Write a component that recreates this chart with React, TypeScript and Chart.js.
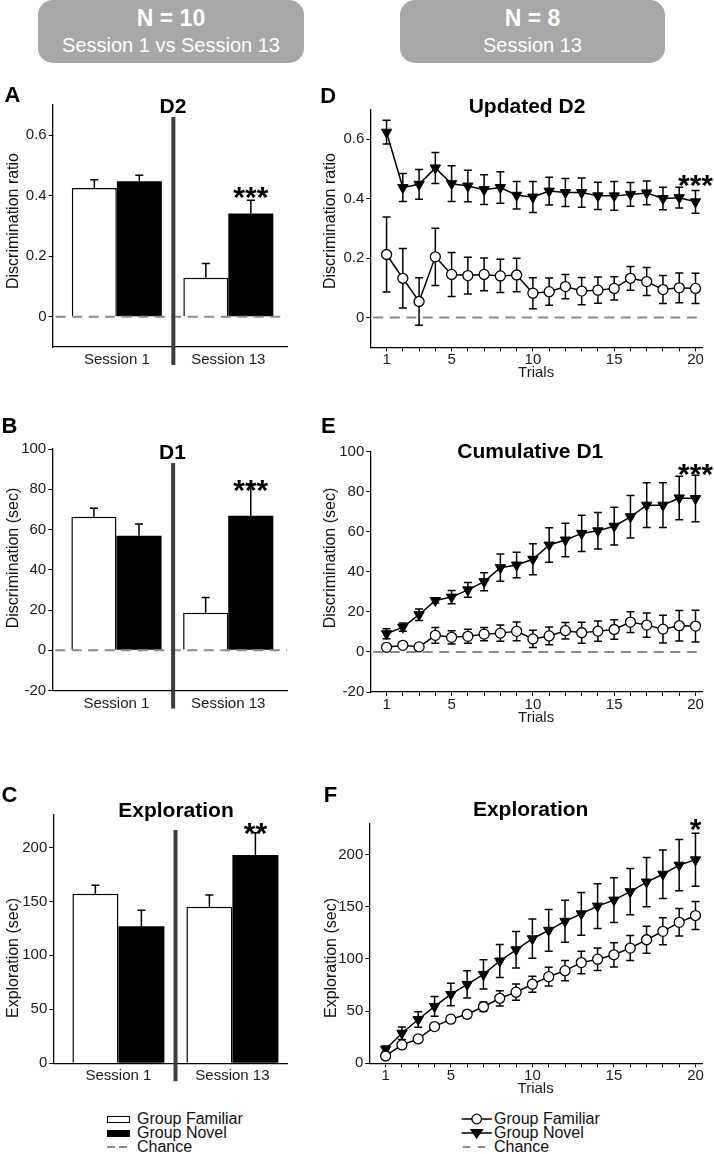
import React, { useEffect, useRef } from "react";
import { Chart, registerables } from "chart.js";

Chart.register(...registerables);

const FONT = "'Liberation Sans', Arial, Helvetica, sans-serif";
Chart.defaults.font.family = FONT;

// ---------------- Data ----------------
const sessions = ["Session 1", "Session 13"];
const sessionPositions = [1, 2];

// Panel A – D2 (discrimination ratio)
const d2Familiar = [0.426, 0.129];
const d2FamiliarSem = [0.027, 0.047];
const d2Novel = [0.448, 0.341];
const d2NovelSem = [0.02, 0.044];

// Panel B – D1 (sec)
const d1Familiar = [66.3, 18.6];
const d1FamiliarSem = [4.2, 7.6];
const d1Novel = [56.9, 66.8];
const d1NovelSem = [5.8, 15.8];

// Panel C – Exploration (sec)
const explFamiliar = [157, 145];
const explFamiliarSem = [8, 11];
const explNovel = [127, 193];
const explNovelSem = [14.7, 20.5];

const trials = [1, 2, 3, 4, 5, 6, 7, 8, 9, 10, 11, 12, 13, 14, 15, 16, 17, 18, 19, 20];
const trialTickLabels = [1, 5, 10, 15, 20];

// Panel D – Updated D2
const updD2Familiar = [0.212, 0.132, 0.054, 0.204, 0.145, 0.141, 0.145, 0.14, 0.143, 0.082, 0.087, 0.104, 0.089, 0.092, 0.098, 0.132, 0.121, 0.094, 0.1, 0.098];
const updD2FamiliarSem = [0.126, 0.1, 0.08, 0.096, 0.074, 0.062, 0.055, 0.056, 0.056, 0.052, 0.046, 0.041, 0.046, 0.044, 0.039, 0.04, 0.047, 0.047, 0.05, 0.051];
const updD2Novel = [0.623, 0.437, 0.448, 0.503, 0.45, 0.442, 0.43, 0.437, 0.411, 0.405, 0.425, 0.42, 0.42, 0.409, 0.409, 0.414, 0.419, 0.4, 0.403, 0.389];
const updD2NovelSem = [0.04, 0.047, 0.05, 0.052, 0.06, 0.053, 0.05, 0.053, 0.046, 0.052, 0.047, 0.047, 0.049, 0.046, 0.048, 0.04, 0.04, 0.038, 0.035, 0.038];

// Panel E – Cumulative D1
const cumD1Familiar = [2.3, 3.3, 2.5, 8.3, 7.3, 7.8, 8.9, 9.4, 10.3, 6.5, 8, 10.6, 9.6, 10.4, 11.2, 14.9, 13.4, 11.4, 13.1, 12.9];
const cumD1FamiliarSem = [0.8, 1.5, 1.2, 3.9, 3.3, 3.5, 3.3, 4, 4.7, 4.3, 4.4, 4.1, 5.2, 5, 4.9, 5.2, 6.1, 6.9, 7.6, 7.9];
const cumD1Novel = [9.1, 12.4, 18.6, 25.7, 27.4, 31, 35.1, 42.1, 43.4, 46.3, 53.4, 55.9, 59.2, 60.5, 62.8, 67.5, 73.3, 73.3, 76.9, 76.6];
const cumD1NovelSem = [2.5, 2.1, 2.9, 1.2, 3.3, 3.7, 4.5, 6.8, 6.4, 7.7, 8.6, 8.4, 9.1, 9.1, 9.4, 10.6, 11.2, 11.2, 10.9, 11.6];

// Panel F – Exploration per trial (cumulative)
const trialExplFamiliar = [7, 17.6, 23.4, 35.2, 42.3, 47, 54.2, 62.3, 68.2, 75.8, 83, 88.8, 96.5, 99.8, 104, 110.4, 118.4, 126.5, 135.1, 141.6];
const trialExplFamiliarSem = [1.5, 2, 2, 2.5, 3, 3.5, 4.5, 7.3, 7.7, 7.7, 9, 9.7, 10.8, 10.8, 11.6, 12, 12.9, 12.9, 13.2, 13.4];
const trialExplNovel = [13.5, 28.8, 42, 54.5, 66, 75.6, 85.2, 98, 108.8, 119.4, 127.4, 136.1, 143.2, 150.6, 156.4, 164.5, 173.7, 181.2, 189.9, 195];
const trialExplNovelSem = [3, 6, 7.5, 9.5, 10.8, 13, 14, 15.8, 17.4, 18.8, 20, 20.1, 20.6, 21.4, 21.4, 22.2, 23.6, 23.2, 24.5, 25.4];

// Axis ticks
const ticksRatio = [0, 0.2, 0.4, 0.6];
const ticksSec = [-20, 0, 20, 40, 60, 80, 100];
const ticksExpl = [0, 50, 100, 150, 200];

// Significance marks
const starA = { text: "***", y: 0.42 };
const starB = { text: "***", y: 83 };
const starC = { text: "**", y: 220 };
const starD = { text: "***", y: 0.468 };
const starE = { text: "***", y: 92.3 };
const starF = { text: "*", y: 231 };

// ---------------- Helpers ----------------
type Rect = { x: number; y: number; w: number; h: number };
type Area = { l: number; t: number; r: number; b: number };

function geometry(c: Rect, a: Area) {
  return {
    padTop: a.t - c.y,
    padRight: c.x + c.w - a.r,
    yWidth: a.l - c.x,
    xHeight: c.y + c.h - a.b,
  };
}

function drawErrors(chart: any, oneSided: boolean) {
  const { ctx } = chart;
  const ys = chart.scales.y;
  ctx.save();
  ctx.strokeStyle = "#000";
  ctx.lineWidth = 1.5;
  ctx.setLineDash([]);
  chart.data.datasets.forEach((ds: any, i: number) => {
    const meta = chart.getDatasetMeta(i);
    meta.data.forEach((el: any, j: number) => {
      const v = ds.data[j].y;
      const e = ds.sem[j];
      const x = el.x;
      const yTop = ys.getPixelForValue(v + e);
      const yBot = ys.getPixelForValue(oneSided ? v : v - e);
      ctx.beginPath();
      ctx.moveTo(x, yBot);
      ctx.lineTo(x, yTop);
      ctx.moveTo(x - 4, yTop);
      ctx.lineTo(x + 4, yTop);
      if (!oneSided) {
        ctx.moveTo(x - 4, yBot);
        ctx.lineTo(x + 4, yBot);
      }
      ctx.stroke();
    });
  });
  ctx.restore();
}

function drawChance(chart: any) {
  const { ctx, chartArea } = chart;
  const y = chart.scales.y.getPixelForValue(0);
  ctx.save();
  ctx.strokeStyle = "#8a8a8a";
  ctx.lineWidth = 2;
  ctx.setLineDash([10, 6.5]);
  ctx.beginPath();
  ctx.moveTo(chartArea.left + 3, y);
  ctx.lineTo(chartArea.right, y);
  ctx.stroke();
  ctx.restore();
}

function drawSeparator(chart: any, sep: { x: number; top: number }) {
  const { ctx, chartArea } = chart;
  const x = chart.scales.x.getPixelForValue(sep.x);
  const yTop = chart.scales.y.getPixelForValue(sep.top);
  ctx.save();
  ctx.strokeStyle = "#3d3d3d";
  ctx.lineWidth = 4;
  ctx.beginPath();
  ctx.moveTo(x, yTop);
  ctx.lineTo(x, chartArea.bottom + 18);
  ctx.stroke();
  ctx.restore();
}

function drawStar(chart: any, star: { text: string; y: number }, dataset: number, index: number) {
  const { ctx } = chart;
  const el = chart.getDatasetMeta(dataset).data[index];
  const y = chart.scales.y.getPixelForValue(star.y);
  const size = 30;
  ctx.save();
  ctx.fillStyle = "#000";
  ctx.font = `bold ${size}px ${FONT}`;
  ctx.textAlign = "center";
  ctx.textBaseline = "alphabetic";
  ctx.fillText(star.text, el.x, y + 0.57 * size);
  ctx.restore();
}

function makeDecor(cfg: any) {
  return {
    id: "decor",
    beforeDatasetsDraw(chart: any) {
      if (cfg.kind === "line") {
        if (cfg.chance) drawChance(chart);
        drawErrors(chart, false);
      }
    },
    afterDatasetsDraw(chart: any) {
      if (cfg.kind === "bar") {
        drawErrors(chart, true);
        if (cfg.chance) drawChance(chart);
        if (cfg.separator) drawSeparator(chart, cfg.separator);
      }
      drawStar(chart, cfg.star, cfg.starDataset, cfg.starIndex);
    },
  };
}

function yAxis(min: number, max: number, ticks: number[], width: number) {
  return {
    type: "linear",
    min,
    max,
    afterBuildTicks: (s: any) => {
      s.ticks = ticks.map((v) => ({ value: v }));
    },
    afterFit: (s: any) => {
      s.width = width;
    },
    ticks: {
      callback: (v: any) => String(v),
      font: { size: 15 },
      color: "#1a1a1a",
      padding: 2,
      autoSkip: false,
    },
    grid: { display: true, drawOnChartArea: false, drawTicks: true, tickLength: 4, color: "#000", lineWidth: 1 },
    border: { display: true, color: "#000", width: 1.3 },
  };
}

function barConfig(p: any) {
  const g = geometry(p.canvas, p.area);
  return {
    type: "bar",
    data: {
      datasets: [
        {
          label: "Group Familiar",
          data: sessionPositions.map((x, i) => ({ x, y: p.fam[i] })),
          sem: p.famSem,
          backgroundColor: "#fff",
          borderColor: "#000",
          borderWidth: 1.5,
          categoryPercentage: 0.807,
          barPercentage: 1,
        },
        {
          label: "Group Novel",
          data: sessionPositions.map((x, i) => ({ x, y: p.nov[i] })),
          sem: p.novSem,
          backgroundColor: "#000",
          borderColor: "#000",
          borderWidth: 0,
          categoryPercentage: 0.807,
          barPercentage: 1,
        },
      ],
    },
    options: {
      responsive: false,
      animation: false,
      events: [],
      layout: { padding: { top: g.padTop, right: g.padRight, left: 0, bottom: 0 } },
      plugins: { legend: { display: false }, tooltip: { enabled: false } },
      scales: {
        x: {
          type: "linear",
          min: p.xMin,
          max: p.xMax,
          offset: false,
          afterBuildTicks: (s: any) => {
            s.ticks = sessionPositions.map((v) => ({ value: v }));
          },
          afterFit: (s: any) => {
            s.height = g.xHeight;
          },
          ticks: {
            callback: (v: any) => {
              const i = sessionPositions.indexOf(v);
              return i >= 0 ? sessions[i] : "";
            },
            font: { size: 15 },
            color: "#1a1a1a",
            padding: 4,
            autoSkip: false,
            maxRotation: 0,
          },
          grid: { display: true, drawOnChartArea: false, drawTicks: false, offset: false },
          border: { display: true, color: "#000", width: 1.3 },
        },
        y: yAxis(p.yMin, p.yMax, p.yTicks, g.yWidth),
      },
    },
    plugins: [
      makeDecor({
        kind: "bar",
        chance: p.chance,
        separator: p.separator,
        star: p.star,
        starDataset: 1,
        starIndex: 1,
      }),
    ],
  };
}

function lineConfig(p: any) {
  const g = geometry(p.canvas, p.area);
  return {
    type: "line",
    data: {
      datasets: [
        {
          label: "Group Familiar",
          data: trials.map((x, i) => ({ x, y: p.fam[i] })),
          sem: p.famSem,
          borderColor: "#000",
          borderWidth: 1.5,
          pointStyle: "circle",
          pointRadius: 5,
          pointBackgroundColor: "#fff",
          pointBorderColor: "#000",
          pointBorderWidth: 1.3,
          tension: 0,
        },
        {
          label: "Group Novel",
          data: trials.map((x, i) => ({ x, y: p.nov[i] })),
          sem: p.novSem,
          borderColor: "#000",
          borderWidth: 1.5,
          pointStyle: "triangle",
          pointRotation: 180,
          pointRadius: 6,
          pointBackgroundColor: "#000",
          pointBorderColor: "#000",
          pointBorderWidth: 1,
          tension: 0,
        },
      ],
    },
    options: {
      responsive: false,
      animation: false,
      events: [],
      layout: { padding: { top: g.padTop, right: g.padRight, left: 0, bottom: 0 } },
      plugins: { legend: { display: false }, tooltip: { enabled: false } },
      scales: {
        x: {
          type: "linear",
          min: 0,
          max: 20.4,
          afterBuildTicks: (s: any) => {
            s.ticks = trials.map((v) => ({ value: v }));
          },
          afterFit: (s: any) => {
            s.height = g.xHeight;
          },
          ticks: {
            callback: (v: any) => (trialTickLabels.includes(v) ? String(v) : ""),
            font: { size: 15 },
            color: "#1a1a1a",
            padding: 0,
            autoSkip: false,
            maxRotation: 0,
          },
          grid: { display: true, drawOnChartArea: false, drawTicks: true, tickLength: 4, color: "#000" },
          border: { display: true, color: "#000", width: 1.3 },
          title: {
            display: true,
            text: "Trials",
            font: { size: 15 },
            color: "#1a1a1a",
            padding: { top: 0, bottom: Math.max(g.xHeight - 35, 0) },
          },
        },
        y: yAxis(p.yMin, p.yMax, p.yTicks, g.yWidth),
      },
    },
    plugins: [
      makeDecor({
        kind: "line",
        chance: p.chance,
        star: p.star,
        starDataset: 1,
        starIndex: trials.length - 1,
      }),
    ],
  };
}

function ChartCanvas({ rect, config }: { rect: Rect; config: any }) {
  const ref = useRef<HTMLCanvasElement>(null);
  useEffect(() => {
    const chart = new Chart(ref.current as HTMLCanvasElement, config);
    return () => chart.destroy();
  }, []);
  return (
    <canvas
      ref={ref}
      width={rect.w}
      height={rect.h}
      style={{ position: "absolute", left: rect.x, top: rect.y, width: rect.w, height: rect.h }}
    />
  );
}

function Txt(props: any) {
  const { x, y, size = 15, bold = false, rotate = 0, color = "#111", anchor = "center", children } = props;
  const tx = anchor === "center" ? "-50%" : anchor === "left" ? "0" : "-100%";
  return (
    <div
      style={{
        position: "absolute",
        left: x,
        top: y,
        transform: `translate(${tx},-50%) rotate(${rotate}deg)`,
        fontFamily: FONT,
        fontSize: size,
        fontWeight: bold ? "bold" : "normal",
        lineHeight: 1,
        whiteSpace: "nowrap",
        color,
      }}
    >
      {children}
    </div>
  );
}

function HeaderBox({ x, w, line1, line2 }: any) {
  return (
    <div
      style={{
        position: "absolute",
        left: x,
        top: 0,
        width: w,
        height: 63,
        background: "#a7a7a7",
        borderRadius: 15,
      }}
    >
      <Txt x={w / 2} y={18} size={23} bold color="#fff">
        {line1}
      </Txt>
      <Txt x={w / 2} y={45} size={20} color="#fff">
        {line2}
      </Txt>
    </div>
  );
}

// ---------------- Layout ----------------
const canvasA: Rect = { x: 0, y: 90, w: 300, h: 295 };
const areaA: Area = { l: 52.7, t: 105, r: 287, b: 347 };
const canvasB: Rect = { x: 0, y: 435, w: 300, h: 295 };
const areaB: Area = { l: 52.2, t: 449, r: 287, b: 690.5 };
const canvasC: Rect = { x: 0, y: 800, w: 300, h: 300 };
const areaC: Area = { l: 53.3, t: 815, r: 287, b: 1063.3 };
const canvasD: Rect = { x: 320, y: 90, w: 394, h: 295 };
const areaD: Area = { l: 370.3, t: 109.3, r: 702, b: 347.3 };
const canvasE: Rect = { x: 320, y: 435, w: 394, h: 295 };
const areaE: Area = { l: 370.3, t: 451.7, r: 702, b: 692 };
const canvasF: Rect = { x: 320, y: 800, w: 394, h: 300 };
const areaF: Area = { l: 369.3, t: 823.3, r: 702, b: 1063.3 };

const cfgA = barConfig({
  canvas: canvasA, area: areaA, fam: d2Familiar, famSem: d2FamiliarSem, nov: d2Novel, novSem: d2NovelSem,
  xMin: 0.425, xMax: 2.526, yMin: -0.1, yMax: 0.7, yTicks: ticksRatio, chance: true,
  separator: { x: 1.507, top: 0.66 }, star: starA,
});
const cfgB = barConfig({
  canvas: canvasB, area: areaB, fam: d1Familiar, famSem: d1FamiliarSem, nov: d1Novel, novSem: d1NovelSem,
  xMin: 0.425, xMax: 2.526, yMin: -20, yMax: 100, yTicks: ticksSec, chance: true,
  separator: { x: 1.507, top: 93 }, star: starB,
});
const cfgC = barConfig({
  canvas: canvasC, area: areaC, fam: explFamiliar, famSem: explFamiliarSem, nov: explNovel, novSem: explNovelSem,
  xMin: 0.429, xMax: 2.479, yMin: 0, yMax: 230, yTicks: ticksExpl, chance: false,
  separator: { x: 1.501, top: 216 }, star: starC,
});
const cfgD = lineConfig({
  canvas: canvasD, area: areaD, fam: updD2Familiar, famSem: updD2FamiliarSem, nov: updD2Novel, novSem: updD2NovelSem,
  yMin: -0.1, yMax: 0.7, yTicks: ticksRatio, chance: true, star: starD,
});
const cfgE = lineConfig({
  canvas: canvasE, area: areaE, fam: cumD1Familiar, famSem: cumD1FamiliarSem, nov: cumD1Novel, novSem: cumD1NovelSem,
  yMin: -20, yMax: 100, yTicks: ticksSec, chance: true, star: starE,
});
const cfgF = lineConfig({
  canvas: canvasF, area: areaF, fam: trialExplFamiliar, famSem: trialExplFamiliarSem, nov: trialExplNovel, novSem: trialExplNovelSem,
  yMin: 0, yMax: 230, yTicks: ticksExpl, chance: false, star: starF,
});

export default function App() {
  useEffect(() => {
    document.body.style.margin = "0";
    document.body.style.background = "#fff";
  }, []);
  return (
    <div
      style={{
        position: "absolute",
        left: 0,
        top: 0,
        width: 714,
        height: 1154,
        background: "#fff",
        overflow: "hidden",
        fontFamily: FONT,
      }}
    >
      <HeaderBox x={38} w={266} line1="N = 10" line2="Session 1 vs Session 13" />
      <HeaderBox x={400} w={265} line1="N = 8" line2="Session 13" />

      <ChartCanvas rect={canvasA} config={cfgA} />
      <ChartCanvas rect={canvasB} config={cfgB} />
      <ChartCanvas rect={canvasC} config={cfgC} />
      <ChartCanvas rect={canvasD} config={cfgD} />
      <ChartCanvas rect={canvasE} config={cfgE} />
      <ChartCanvas rect={canvasF} config={cfgF} />

      {/* Panel letters */}
      <Txt x={12.5} y={94.5} size={22} bold color="#000">A</Txt>
      <Txt x={9.5} y={426} size={22} bold color="#000">B</Txt>
      <Txt x={9.5} y={794.5} size={22} bold color="#000">C</Txt>
      <Txt x={328.3} y={96} size={22} bold color="#000">D</Txt>
      <Txt x={328.3} y={426} size={22} bold color="#000">E</Txt>
      <Txt x={330.5} y={795} size={22} bold color="#000">F</Txt>

      {/* Panel titles */}
      <Txt x={173} y={104.5} size={21} bold color="#000">D2</Txt>
      <Txt x={172.5} y={451} size={21} bold color="#000">D1</Txt>
      <Txt x={176} y={808.5} size={21} bold color="#000">Exploration</Txt>
      <Txt x={527} y={104.5} size={21} bold color="#000">Updated D2</Txt>
      <Txt x={530.3} y={450} size={21} bold color="#000">Cumulative D1</Txt>
      <Txt x={530.7} y={808} size={21} bold color="#000">Exploration</Txt>

      {/* Y axis titles */}
      <Txt x={12.7} y={220.8} size={16} rotate={-90}>Discrimination ratio</Txt>
      <Txt x={12.7} y={557.5} size={16} rotate={-90}>Discrimination (sec)</Txt>
      <Txt x={12.7} y={958} size={16} rotate={-90}>Exploration (sec)</Txt>
      <Txt x={330} y={220.8} size={16} rotate={-90}>Discrimination ratio</Txt>
      <Txt x={330} y={557.5} size={16} rotate={-90}>Discrimination (sec)</Txt>
      <Txt x={330.5} y={958} size={16} rotate={-90}>Exploration (sec)</Txt>

      {/* Left legend (bars) */}
      <div style={{ position: "absolute", left: 106.5, top: 1116, width: 23, height: 6.5, border: "1.5px solid #000", background: "#fff", boxSizing: "border-box" }} />
      <Txt x={137} y={1119} size={16} anchor="left">Group Familiar</Txt>
      <div style={{ position: "absolute", left: 106.5, top: 1130, width: 23, height: 6.5, background: "#000" }} />
      <Txt x={137} y={1133} size={16} anchor="left">Group Novel</Txt>
      <div style={{ position: "absolute", left: 106.5, top: 1146, width: 8, height: 2, background: "#8a8a8a" }} />
      <div style={{ position: "absolute", left: 119, top: 1146, width: 8, height: 2, background: "#8a8a8a" }} />
      <Txt x={137} y={1147} size={16} anchor="left">Chance</Txt>

      {/* Right legend (lines) */}
      <svg style={{ position: "absolute", left: 455, top: 1108, width: 40, height: 46 }} width={40} height={46}>
        <line x1={6.7} y1={11} x2={36.7} y2={11} stroke="#000" strokeWidth={1.5} />
        <circle cx={21.7} cy={11} r={4.8} fill="#fff" stroke="#000" strokeWidth={1.3} />
        <line x1={6.7} y1={25} x2={36.7} y2={25} stroke="#000" strokeWidth={1.5} />
        <polygon points="14.7,21 28.7,21 21.7,31" fill="#000" />
        <line x1={7.7} y1={39} x2={15.2} y2={39} stroke="#8a8a8a" strokeWidth={2} />
        <line x1={22.7} y1={39} x2={30.2} y2={39} stroke="#8a8a8a" strokeWidth={2} />
      </svg>
      <Txt x={494} y={1119} size={16} anchor="left">Group Familiar</Txt>
      <Txt x={494} y={1133} size={16} anchor="left">Group Novel</Txt>
      <Txt x={494} y={1147} size={16} anchor="left">Chance</Txt>
    </div>
  );
}
